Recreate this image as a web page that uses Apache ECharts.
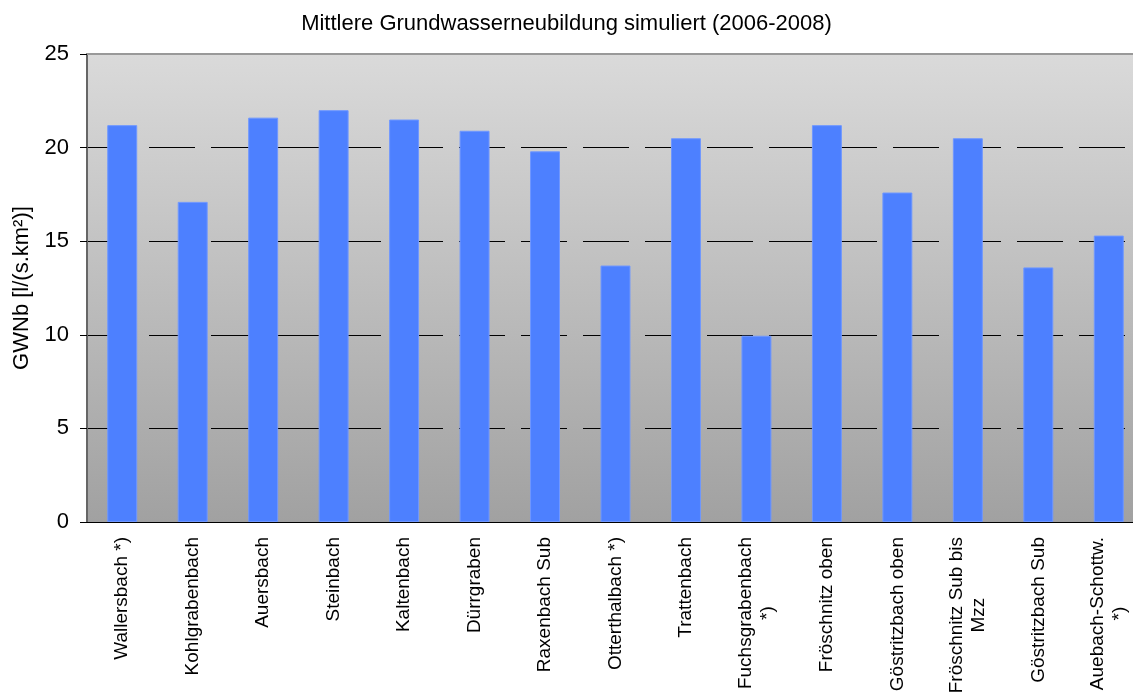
<!DOCTYPE html>
<html>
<head>
<meta charset="utf-8">
<script src="https://cdn.jsdelivr.net/npm/echarts@6/dist/echarts.min.js"></script>
<style>
  html, body { margin: 0; padding: 0; background: #fff; }
  #chart { width: 1133px; height: 693px; }
</style>
</head>
<body>
<div id="chart"></div>
<script>
// Gebiete (Kategorien)
var categories = [
    "Wallersbach *)",
    "Kohlgrabenbach",
    "Auersbach",
    "Steinbach",
    "Kaltenbach",
    "Dürrgraben",
    "Raxenbach Sub",
    "Otterthalbach *)",
    "Trattenbach",
    "Fuchsgrabenbach\n*)",
    "Fröschnitz oben",
    "Göstritzbach oben",
    "Fröschnitz Sub bis\nMzz",
    "Göstritzbach Sub",
    "Auebach-Schottw.\n*)"
];
// mittlere GWNb in l/(s.km²)
var gwnbValues = [21.2, 17.1, 21.6, 22.0, 21.5, 20.9, 19.8, 13.7, 20.5, 9.95, 21.2, 17.6, 20.5, 13.6, 15.3];
var yTicks = { min: 0, max: 25, interval: 5 };

var myChart = echarts.init(document.getElementById("chart"));

var option = {
    animation: false,
    title: {
        text: "Mittlere Grundwasserneubildung simuliert (2006-2008)",
        left: "center",
        top: 8,
        textStyle: {
            fontFamily: "Liberation Sans",
            fontSize: 22,
            fontWeight: "normal",
            color: "#000"
        }
    },
    grid: {
        left: 87,
        top: 54,
        bottom: 171,
        right: -11,
        outerBoundsMode: "none",
        show: true,
        borderWidth: 0,
        backgroundColor: new echarts.graphic.LinearGradient(0, 0, 0, 1, [
            { offset: 0, color: "#dadada" },
            { offset: 1, color: "#a1a1a1" }
        ])
    },
    xAxis: {
        type: "category",
        data: categories,
        axisLine: { lineStyle: { color: "#000", width: 1 } },
        axisTick: { length: 6, lineStyle: { color: "#000" } },
        axisLabel: {
            rotate: 90,
            margin: 15,
            interval: 0,
            color: "#000",
            fontFamily: "Liberation Sans",
            fontSize: 19,
            formatter: function (v) {
                // jede Zeile zentriert
                return v.split("\n").map(function (l) { return "{c|" + l + "}"; }).join("\n");
            },
            rich: {
                c: {
                    align: "center",
                    fontFamily: "Liberation Sans",
                    fontSize: 19,
                    lineHeight: 22,
                    color: "#000"
                }
            }
        }
    },
    yAxis: {
        type: "value",
        min: yTicks.min,
        max: yTicks.max,
        interval: yTicks.interval,
        name: "GWNb [l/(s.km²)]",
        nameLocation: "middle",
        nameGap: 54,
        nameTextStyle: {
            fontFamily: "Liberation Sans",
            fontSize: 22,
            color: "#000"
        },
        axisLine: { show: true, lineStyle: { color: "#666", width: 2 } },
        axisTick: { show: true, length: 7, lineStyle: { color: "#000" } },
        axisLabel: {
            margin: 18,
            color: "#000",
            fontFamily: "Liberation Sans",
            fontSize: 22
        },
        splitLine: {
            show: true,
            lineStyle: { color: "#000", width: 1, type: [46, 16] }
        }
    },
    series: [
        {
            type: "bar",
            data: gwnbValues,
            barWidth: "42.5%",
            itemStyle: {
                color: "#4d80ff",
                borderColor: "#6f97ff",
                borderWidth: 1
            },
            // obere Rahmenlinie bei 25
            markLine: {
                silent: true,
                symbol: "none",
                label: { show: false },
                lineStyle: { color: "#999", width: 2, type: "solid" },
                data: [{ yAxis: yTicks.max }]
            }
        }
    ]
};

myChart.setOption(option);
</script>
</body>
</html>
